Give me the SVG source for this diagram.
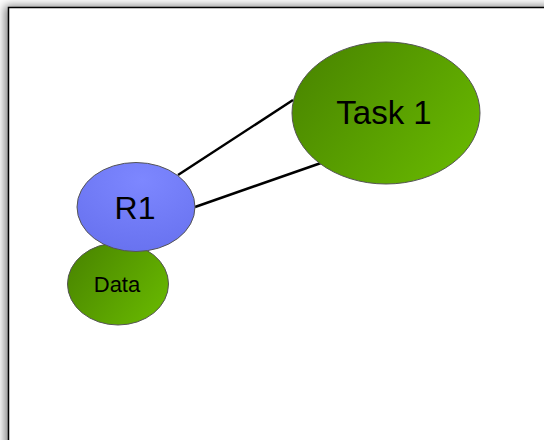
<svg xmlns="http://www.w3.org/2000/svg" width="544" height="440" viewBox="0 0 544 440">
<defs>
<filter id="sh" x="-10%" y="-10%" width="120%" height="120%">
<feDropShadow dx="-3" dy="-1" stdDeviation="5" flood-color="#000" flood-opacity="0.5"/>
</filter>
<linearGradient id="green" x1="0" y1="0.2" x2="1" y2="0.8">
<stop offset="0" stop-color="#4a8600"/>
<stop offset="1" stop-color="#68b800"/>
</linearGradient>
<radialGradient id="blue" cx="0.55" cy="0.2" r="0.9">
<stop offset="0" stop-color="#7d87ff"/>
<stop offset="1" stop-color="#6670ee"/>
</radialGradient>
<style>
.node{stroke:#555;stroke-width:1}
.lbl{font-family:"Liberation Sans",Arial,sans-serif;fill:#000;text-anchor:middle}
.edge{stroke:#000;stroke-width:2.5;fill:none}
</style>
</defs>
<rect x="0" y="0" width="544" height="440" fill="#fff"/>
<rect x="8.5" y="7.5" width="600" height="500" fill="#fff" stroke="#000" stroke-width="1.5" filter="url(#sh)"/>
<g id="connectors">
<line class="edge" x1="178" y1="175" x2="293" y2="100"/>
<line class="edge" x1="195" y1="207" x2="321" y2="163"/>
</g>
<g id="task1">
<ellipse class="node" cx="386" cy="113" rx="94" ry="71" fill="url(#green)"/>
<text class="lbl" x="384" y="124" font-size="33">Task 1</text>
</g>
<g id="data">
<ellipse class="node" cx="118" cy="284" rx="50.5" ry="41" fill="url(#green)"/>
<text class="lbl" x="117" y="292" font-size="22">Data</text>
</g>
<g id="r1">
<ellipse class="node" cx="136" cy="207" rx="59" ry="44.5" fill="url(#blue)"/>
<text class="lbl" x="135" y="219" font-size="32">R1</text>
</g>
</svg>
